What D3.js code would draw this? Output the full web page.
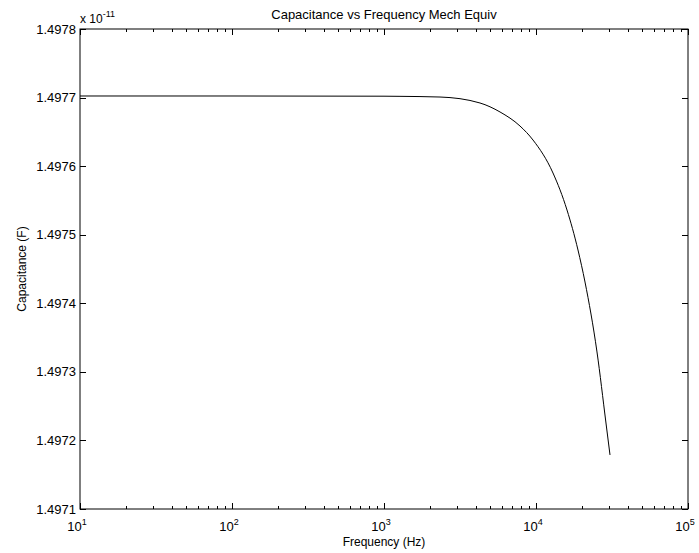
<!DOCTYPE html>
<html>
<head>
<meta charset="utf-8">
<script src="https://cdn.jsdelivr.net/npm/d3@7"></script>
<style>
  html, body { margin: 0; padding: 0; background: #fff; }
  svg { display: block; }
  text { font-family: "Liberation Sans", Arial, Helvetica, sans-serif; fill: #000; }
</style>
</head>
<body>
<svg id="chart" width="699" height="553"></svg>
<script>
// ---- data (capacitance in units of 1e-11 F) ----
const frequencyHz = [10, 100, 1000, 1274, 2336, 4281, 5798, 7848, 9556, 12936, 15996, 18892, 21009, 25191, 28865, 30681];
const capacitance = [1.4977023, 1.4977023, 1.4977020, 1.4977018, 1.4977008, 1.4976921, 1.4976790, 1.4976585, 1.4976381, 1.4975900, 1.4975360, 1.4974777, 1.4974310, 1.4973290, 1.4972254, 1.4971788];
const yTickValues = [1.4971, 1.4972, 1.4973, 1.4974, 1.4975, 1.4976, 1.4977, 1.4978];
const xTickExponents = [1, 2, 3, 4, 5];
const titleText = "Capacitance vs Frequency Mech Equiv";
const xLabelText = "Frequency (Hz)";
const yLabelText = "Capacitance (F)";
const yScaleExponent = "-11";

const svg = d3.select("#chart");
const L = 80, R = 688, T = 29, B = 509;

const x = d3.scaleLog().domain([10, 1e5]).range([L, R]);
const y = d3.scaleLinear().domain([1.4971, 1.4978]).range([B, T]);

// Box
svg.append("rect").attr("x", L).attr("y", T).attr("width", R - L).attr("height", B - T)
  .attr("fill", "none").attr("stroke", "#000").attr("stroke-width", 1);

// X ticks (major + minor), inward, bottom and top
const minorX = [];
for (let e = 1; e < 5; e++) for (let m = 2; m <= 9; m++) minorX.push(m * Math.pow(10, e));
const majorX = xTickExponents.map(e => Math.pow(10, e));
const tickG = svg.append("g").attr("stroke", "#000").attr("stroke-width", 1);
majorX.forEach(v => {
  const px = Math.round(x(v)) + 0.5;
  tickG.append("line").attr("x1", px).attr("x2", px).attr("y1", B).attr("y2", B - 6);
  tickG.append("line").attr("x1", px).attr("x2", px).attr("y1", T).attr("y2", T + 6);
});
minorX.forEach(v => {
  const px = Math.round(x(v)) + 0.5;
  tickG.append("line").attr("x1", px).attr("x2", px).attr("y1", B).attr("y2", B - 3);
  tickG.append("line").attr("x1", px).attr("x2", px).attr("y1", T).attr("y2", T + 3);
});
// Y ticks left and right
yTickValues.forEach(v => {
  const py = Math.round(y(v)) + 0.5;
  tickG.append("line").attr("x1", L).attr("x2", L + 6).attr("y1", py).attr("y2", py);
  tickG.append("line").attr("x1", R).attr("x2", R - 6).attr("y1", py).attr("y2", py);
});

// Y tick labels
const fmt = d3.format(".4f");
svg.append("g").selectAll("text").data(yTickValues).join("text")
  .attr("x", L - 4).attr("y", d => y(d) + 4.5)
  .attr("text-anchor", "end").attr("font-size", 13)
  .text(d => fmt(d));

// X tick labels: 10^n
const xl = svg.append("g").selectAll("text").data(xTickExponents).join("text")
  .attr("x", d => x(Math.pow(10, d)) - 3).attr("y", 531)
  .attr("text-anchor", "middle").attr("font-size", 13);
xl.append("tspan").text("10");
xl.append("tspan").attr("dy", -6).attr("font-size", 9).text(d => d);

// Scale exponent label
const ex = svg.append("text").attr("x", L).attr("y", 23).attr("font-size", 12);
ex.append("tspan").text("x 10");
ex.append("tspan").attr("dy", -6).attr("font-size", 9).text(yScaleExponent);

// Title
svg.append("text").attr("x", (L + R) / 2).attr("y", 19).attr("text-anchor", "middle")
  .attr("font-size", 13).text(titleText);

// Axis labels
svg.append("text").attr("x", (L + R) / 2).attr("y", 546).attr("text-anchor", "middle")
  .attr("font-size", 12).text(xLabelText);
svg.append("text").attr("transform", `translate(26, ${(T + B) / 2}) rotate(-90)`)
  .attr("text-anchor", "middle").attr("font-size", 12).text(yLabelText);

// Curve
const line = d3.line()
  .x((d, i) => x(frequencyHz[i]))
  .y(d => y(d))
  .curve(d3.curveMonotoneX);
svg.append("path").datum(capacitance)
  .attr("d", line).attr("fill", "none").attr("stroke", "#000").attr("stroke-width", 1);
</script>
</body>
</html>
